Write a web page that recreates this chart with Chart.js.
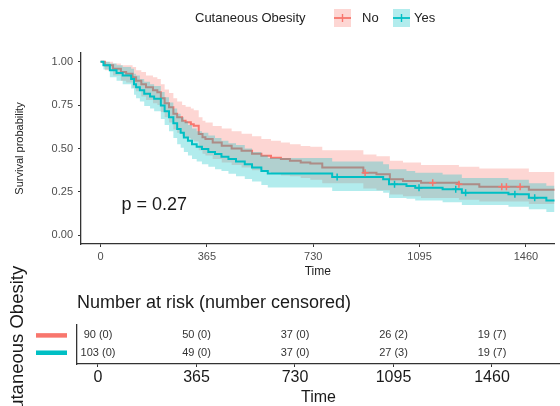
<!DOCTYPE html>
<html><head><meta charset="utf-8">
<script src="https://cdn.jsdelivr.net/npm/chart.js@4/dist/chart.umd.min.js"></script>
<style>
html,body{margin:0;padding:0;background:#fff;overflow:hidden;width:560px;height:406px;}
#wrap{position:relative;width:560px;height:406px;overflow:hidden;}
#km{position:absolute;left:0;top:0;}
#risk{position:absolute;left:0;top:250px;}
</style></head><body>
<div id="wrap">
<canvas id="km" width="560" height="285"></canvas>
<canvas id="risk" width="560" height="160"></canvas>
</div>
<script>
// ---------- data ----------
const groupTitle = 'Cutaneous Obesity';
const groupNames = ['No', 'Yes'];
const xTicks = [0, 365, 730, 1095, 1460];
const yTicks = [0, 0.25, 0.5, 0.75, 1];
const pvalText = 'p = 0.27';

const redTime  = [0,15,43,70,88,110,122,140,156,180,195,207,220,235,250,263,280,292,310,320,337,350,360,385,416,450,484,520,552,585,619,650,687,720,761,902,947,993,1038,1100,1230,1300,1470,1600];
const redSurv  = [1,0.98,0.96,0.94,0.93,0.91,0.89,0.87,0.853,0.835,0.824,0.79,0.76,0.737,0.70,0.68,0.66,0.651,0.64,0.631,0.583,0.565,0.554,0.535,0.516,0.50,0.487,0.47,0.458,0.447,0.439,0.43,0.419,0.413,0.39,0.361,0.352,0.323,0.313,0.303,0.294,0.28,0.262,0.262];
const redUpper = [1,1,0.99,0.98,0.98,0.97,0.95,0.94,0.92,0.91,0.90,0.87,0.84,0.82,0.79,0.77,0.75,0.74,0.73,0.72,0.68,0.66,0.65,0.63,0.615,0.60,0.585,0.57,0.555,0.545,0.535,0.525,0.515,0.51,0.49,0.465,0.455,0.43,0.42,0.405,0.395,0.385,0.365,0.365];
const redLower = [1,0.95,0.92,0.89,0.88,0.85,0.83,0.80,0.78,0.76,0.75,0.71,0.68,0.65,0.61,0.59,0.57,0.56,0.55,0.54,0.49,0.47,0.46,0.44,0.42,0.405,0.39,0.375,0.365,0.355,0.345,0.34,0.33,0.32,0.30,0.27,0.26,0.235,0.225,0.215,0.205,0.195,0.18,0.18];
const redCensTime = [908,1140,1230,1377,1393,1440];
const redCensSurv = [0.361,0.303,0.294,0.28,0.28,0.28];

const tealTime  = [0,10,32,55,76,105,115,122,135,150,170,184,207,220,235,250,263,275,286,300,314,330,348,370,393,415,439,465,495,520,552,574,795,970,990,1050,1080,1174,1240,1400,1470,1530,1600];
const tealSurv  = [1,0.98,0.95,0.935,0.92,0.90,0.87,0.853,0.835,0.815,0.80,0.786,0.747,0.715,0.68,0.645,0.612,0.59,0.564,0.545,0.525,0.51,0.497,0.48,0.468,0.453,0.439,0.425,0.41,0.39,0.371,0.356,0.336,0.323,0.294,0.284,0.274,0.265,0.245,0.236,0.216,0.20,0.20];
const tealUpper = [1,1,0.99,0.98,0.97,0.96,0.93,0.92,0.90,0.885,0.87,0.86,0.825,0.795,0.765,0.73,0.70,0.68,0.655,0.635,0.615,0.60,0.59,0.575,0.56,0.545,0.53,0.52,0.50,0.48,0.46,0.445,0.425,0.41,0.38,0.37,0.36,0.35,0.33,0.32,0.30,0.285,0.285];
const tealLower = [1,0.955,0.91,0.89,0.87,0.845,0.81,0.79,0.77,0.745,0.73,0.715,0.67,0.635,0.60,0.56,0.525,0.505,0.48,0.46,0.44,0.425,0.41,0.395,0.38,0.37,0.355,0.34,0.325,0.31,0.29,0.275,0.255,0.245,0.215,0.21,0.20,0.19,0.175,0.165,0.15,0.135,0.135];
const tealCensTime = [812,1009,1093,1219,1253,1422,1490];
const tealCensSurv = [0.336,0.294,0.274,0.265,0.245,0.236,0.216];

const riskTimes = [0, 365, 730, 1095, 1460];
const riskNo    = [90, 50, 37, 26, 19];
const censNo    = [0, 0, 0, 2, 7];
const riskYes   = [103, 49, 37, 27, 19];
const censYes   = [0, 0, 0, 3, 7];

// ---------- styling ----------
const FONT = "'Liberation Sans', Arial, Helvetica, sans-serif";
Chart.defaults.font.family = FONT;
const RED = '#F8766D', TEAL = '#00BFC4';
const RED_BAND = 'rgba(248,118,109,0.30)', TEAL_BAND = 'rgba(0,191,196,0.30)';
const AXIS = '#333333';

const xy = (t, v) => t.map((tt, i) => ({x: tt, y: v[i]}));
const band = (label, t, v, fill, bg, order) => ({label, data: xy(t, v), stepped: true, borderColor: 'transparent', borderWidth: 0, pointRadius: 0, fill, backgroundColor: bg, order});

const kmExtras = {
  id: 'kmExtras',
  afterDraw(chart) {
    const {ctx, scales: {x, y}} = chart;
    ctx.save();
    ctx.fillStyle = '#1a1a1a';
    ctx.textBaseline = 'middle';
    ctx.textAlign = 'left';
    ctx.font = `18px ${FONT}`;
    ctx.fillText(pvalText, x.getPixelForValue(72), y.getPixelForValue(0.175));
    // legend
    ctx.font = `13px ${FONT}`;
    ctx.fillStyle = '#222';
    ctx.fillText(groupTitle, 195, 18);
    const keys = [[334, RED_BAND, RED, groupNames[0], 362], [393, TEAL_BAND, TEAL, groupNames[1], 414]];
    keys.forEach(([kx, bg, col, name, tx]) => {
      ctx.fillStyle = bg;
      ctx.fillRect(kx, 9, 17, 18);
      ctx.strokeStyle = col;
      ctx.lineWidth = 1.8;
      ctx.beginPath(); ctx.moveTo(kx, 18); ctx.lineTo(kx + 17, 18); ctx.stroke();
      ctx.lineWidth = 1.4;
      ctx.beginPath(); ctx.moveTo(kx + 8.5, 14); ctx.lineTo(kx + 8.5, 22); ctx.stroke();
      ctx.fillStyle = '#222';
      ctx.fillText(name, tx, 18);
    });
    ctx.restore();
  }
};

new Chart(document.getElementById('km'), {
  type: 'line',
  data: {
    datasets: [
      band('No upper', redTime, redUpper, '+1', RED_BAND, 6),
      band('No lower', redTime, redLower, false, 'transparent', 6),
      {label: groupNames[0], data: xy(redTime, redSurv), stepped: true, borderColor: RED, borderWidth: 2, pointRadius: 0, fill: false, order: 5},
      band('Yes upper', tealTime, tealUpper, '+1', TEAL_BAND, 4),
      band('Yes lower', tealTime, tealLower, false, 'transparent', 4),
      {label: groupNames[1], data: xy(tealTime, tealSurv), stepped: true, borderColor: TEAL, borderWidth: 2, pointRadius: 0, fill: false, order: 3},
      {label: 'No censored', data: xy(redCensTime, redCensSurv), showLine: false, pointStyle: 'cross', pointRadius: 3.5, borderColor: RED, borderWidth: 1.5, order: 2},
      {label: 'Yes censored', data: xy(tealCensTime, tealCensSurv), showLine: false, pointStyle: 'cross', pointRadius: 3.5, borderColor: TEAL, borderWidth: 1.5, order: 1}
    ]
  },
  options: {
    responsive: false,
    animation: false,
    events: [],
    layout: {padding: {top: 53, left: 0, right: 0, bottom: 0}},
    plugins: {legend: {display: false}, tooltip: {enabled: false}},
    scales: {
      x: {
        type: 'linear', min: -67, max: 1558,
        afterBuildTicks: s => { s.ticks = xTicks.map(v => ({value: v})); },
        afterFit: s => { s.height = 41; },
        grid: {display: true, drawOnChartArea: false, drawTicks: true, tickLength: 3, color: AXIS, tickColor: AXIS, tickWidth: 1},
        border: {display: true, color: AXIS, width: 1.3},
        ticks: {color: '#4d4d4d', font: {size: 11}, padding: 3.4, maxRotation: 0, autoSkip: false, callback: v => String(v)},
        title: {display: true, text: 'Time', color: '#222', font: {size: 12}, padding: {top: 0, bottom: 6}}
      },
      y: {
        type: 'linear', min: -0.05, max: 1.05,
        afterBuildTicks: s => { s.ticks = yTicks.map(v => ({value: v})); },
        afterFit: s => { s.width = 81; },
        grid: {display: true, drawOnChartArea: false, drawTicks: true, tickLength: 3, color: AXIS, tickColor: AXIS, tickWidth: 1},
        border: {display: true, color: AXIS, width: 1.3},
        ticks: {color: '#4d4d4d', font: {size: 11}, padding: 5, callback: v => Number(v).toFixed(2)},
        title: {display: true, text: 'Survival probability', color: '#222', font: {size: 11}, padding: {top: 13, bottom: 0}}
      }
    }
  },
  plugins: [kmExtras]
});

const riskText = {
  id: 'riskText',
  afterDraw(chart) {
    const {ctx, scales: {x, y}} = chart;
    ctx.save();
    ctx.font = `11px ${FONT}`;
    ctx.fillStyle = '#333';
    ctx.textAlign = 'center';
    ctx.textBaseline = 'middle';
    const yNo = y.getPixelForValue(2), yYes = y.getPixelForValue(1);
    riskTimes.forEach((t, i) => {
      const px = x.getPixelForValue(t);
      ctx.fillText(`${riskNo[i]} (${censNo[i]})`, px, yNo);
      ctx.fillText(`${riskYes[i]} (${censYes[i]})`, px, yYes);
    });
    ctx.lineWidth = 4.5;
    ctx.strokeStyle = RED;
    ctx.beginPath(); ctx.moveTo(36, yNo); ctx.lineTo(67, yNo); ctx.stroke();
    ctx.strokeStyle = TEAL;
    ctx.beginPath(); ctx.moveTo(36, yYes); ctx.lineTo(67, yYes); ctx.stroke();
    ctx.restore();
  }
};

new Chart(document.getElementById('risk'), {
  type: 'scatter',
  data: {datasets: [{label: 'risk', data: [], pointRadius: 0}]},
  options: {
    responsive: false,
    animation: false,
    events: [],
    layout: {padding: {top: 0, left: 3, right: 0, bottom: 0}},
    plugins: {
      legend: {display: false}, tooltip: {enabled: false},
      title: {display: true, text: 'Number at risk (number censored)', align: 'start', fullSize: false, color: '#1a1a1a', font: {size: 18, weight: 'normal'}, padding: {top: 42.2, bottom: 11.2}}
    },
    scales: {
      x: {
        type: 'linear', min: -77.8, max: 1712,
        afterBuildTicks: s => { s.ticks = riskTimes.map(v => ({value: v})); },
        afterFit: s => { s.height = 46; },
        grid: {display: true, drawOnChartArea: false, drawTicks: true, tickLength: 3, color: AXIS, tickColor: AXIS, tickWidth: 1},
        border: {display: true, color: AXIS, width: 1.3},
        ticks: {color: '#1a1a1a', font: {size: 16}, padding: 1.4, maxRotation: 0, autoSkip: false, callback: v => String(v)},
        title: {display: true, text: 'Time', color: '#1a1a1a', font: {size: 16}, padding: {top: 0, bottom: 2.4}}
      },
      y: {
        type: 'linear', min: 0.35, max: 2.6,
        afterFit: s => { s.width = 74; },
        grid: {display: false, drawTicks: false},
        border: {display: true, color: AXIS, width: 1.3},
        ticks: {display: false},
        title: {display: true, text: groupTitle, color: '#1a1a1a', font: {size: 18.5}, padding: {top: 4, bottom: 0}}
      }
    }
  },
  plugins: [riskText]
});
</script>
</body></html>
